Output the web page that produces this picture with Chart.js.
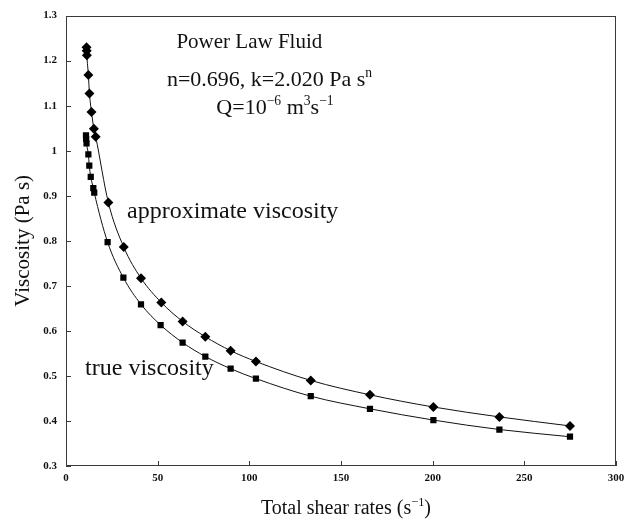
<!DOCTYPE html>
<html>
<head>
<meta charset="utf-8">
<script src="https://cdn.jsdelivr.net/npm/chart.js@4/dist/chart.umd.min.js"></script>
<style>
  html, body { margin: 0; padding: 0; background: #fff; }
  #wrap { width: 633px; height: 523px; }
</style>
</head>
<body>
<div id="wrap"><canvas id="chart" width="633" height="523"></canvas></div>
<script>
// values
var shearApprox = [11.2, 11.3, 11.4, 12.2, 12.8, 13.9, 15.2, 16.2, 23.1, 31.5, 40.9, 52.0, 63.6, 76.0, 89.8, 103.6, 133.5, 165.8, 200.4, 236.4, 274.9];
var viscApprox  = [1.230, 1.222, 1.212, 1.168, 1.127, 1.086, 1.049, 1.031, 0.885, 0.786, 0.717, 0.663, 0.621, 0.587, 0.556, 0.532, 0.490, 0.458, 0.431, 0.409, 0.389];

var shearTrue = [10.9, 11.0, 11.2, 12.2, 12.7, 13.5, 14.9, 15.4, 22.7, 31.3, 40.9, 51.6, 63.6, 76.0, 89.8, 103.6, 133.5, 165.8, 200.4, 236.4, 274.9];
var viscTrue  = [1.034, 1.026, 1.016, 0.992, 0.967, 0.942, 0.917, 0.907, 0.797, 0.718, 0.659, 0.613, 0.574, 0.543, 0.516, 0.494, 0.455, 0.427, 0.402, 0.381, 0.365];

var xRange = [0, 300];
var yRange = [0.3, 1.3];

var serif = '"Liberation Serif", "Times New Roman", serif';

function toPoints(xs, ys) {
    return xs.map(function(x, i) { return {x: x, y: ys[i]}; });
}

// text pieces: [text, isSuperscript]
function drawRuns(ctx, parts, size, x, y, align) {
    var widths = parts.map(function(p) {
        ctx.font = (p[1] ? size * 0.62 : size) + 'px ' + serif;
        return ctx.measureText(p[0]).width;
    });
    var total = widths.reduce(function(a, b) { return a + b; }, 0);
    var cx = align === 'center' ? x - total / 2 : x;
    ctx.textAlign = 'left';
    ctx.textBaseline = 'alphabetic';
    parts.forEach(function(p, i) {
        ctx.font = (p[1] ? size * 0.62 : size) + 'px ' + serif;
        ctx.fillText(p[0], cx, p[1] ? y - size * 0.42 : y);
        cx += widths[i];
    });
}

var labels = [
    {parts: [['Power Law Fluid']], x: 100, y: 1.228, size: 21, align: 'center'},
    {parts: [['n=0.696, k=2.020 Pa s'], ['n', true]], x: 111, y: 1.143, size: 22, align: 'center'},
    {parts: [['Q=10'], ['\u22126', true], [' m'], ['3', true], ['s'], ['\u22121', true]], x: 114, y: 1.081, size: 22, align: 'center'},
    {parts: [['approximate viscosity']], x: 33.3, y: 0.850, size: 24, align: 'left'},
    {parts: [['true viscosity']], x: 10.4, y: 0.501, size: 24, align: 'left'}
];

var decor = {
    id: 'decor',
    afterDraw: function(chart) {
        var ctx = chart.ctx, a = chart.chartArea;
        var xs = chart.scales.x, ys = chart.scales.y;
        ctx.save();
        ctx.strokeStyle = '#3a3a3a';
        ctx.lineWidth = 1;
        ctx.strokeRect(Math.round(a.left) + 0.5, Math.round(a.top) + 0.5,
                       Math.round(a.width) - 1, Math.round(a.height) - 1);
        ctx.beginPath();
        xs.ticks.forEach(function(t) {
            var px = Math.round(xs.getPixelForValue(t.value)) + 0.5;
            ctx.moveTo(px, a.bottom);
            ctx.lineTo(px, a.bottom - 5);
        });
        ys.ticks.forEach(function(t) {
            var py = Math.round(ys.getPixelForValue(t.value)) + 0.5;
            ctx.moveTo(a.left, py);
            ctx.lineTo(a.left + 5, py);
        });
        ctx.stroke();

        ctx.fillStyle = '#111';
        labels.forEach(function(l) {
            drawRuns(ctx, l.parts, l.size, xs.getPixelForValue(l.x), ys.getPixelForValue(l.y), l.align);
        });

        // axis titles
        drawRuns(ctx, [['Total shear rates (s'], ['\u22121', true], [')']], 20,
                 (a.left + a.right) / 2 + 5, 514, 'center');
        ctx.translate(29, (a.top + a.bottom) / 2);
        ctx.rotate(-Math.PI / 2);
        drawRuns(ctx, [['Viscosity (Pa s)']], 21, 0, 0, 'center');
        ctx.restore();
    }
};

var chart = new Chart(document.getElementById('chart'), {
    type: 'scatter',
    data: {
        datasets: [{
            label: 'approximate viscosity',
            data: toPoints(shearApprox, viscApprox),
            showLine: true,
            borderColor: '#111',
            borderWidth: 1,
            backgroundColor: '#000',
            pointStyle: 'rectRot',
            pointRadius: 5,
            pointBorderWidth: 0,
            cubicInterpolationMode: 'monotone'
        }, {
            label: 'true viscosity',
            data: toPoints(shearTrue, viscTrue),
            showLine: true,
            borderColor: '#111',
            borderWidth: 1,
            backgroundColor: '#000',
            pointStyle: 'rect',
            pointRadius: 4.4,
            pointBorderWidth: 0,
            cubicInterpolationMode: 'monotone'
        }]
    },
    options: {
        responsive: false,
        animation: false,
        layout: { padding: { top: 13, right: 17, left: 0, bottom: 0 } },
        plugins: { legend: { display: false }, tooltip: { enabled: false } },
        scales: {
            x: {
                type: 'linear',
                min: xRange[0], max: xRange[1],
                grid: { display: false, drawTicks: false },
                border: { display: false },
                ticks: {
                    stepSize: 50, padding: 6, color: '#111',
                    font: { family: serif, size: 11, weight: 'bold' }
                },
                afterFit: function(s) { s.height = 57; }
            },
            y: {
                type: 'linear',
                min: yRange[0], max: yRange[1],
                grid: { display: false, drawTicks: false },
                border: { display: false },
                ticks: {
                    stepSize: 0.1, padding: 9, color: '#111',
                    font: { family: serif, size: 11, weight: 'bold' },
                    callback: function(v) { return String(Math.round(v * 10) / 10); }
                },
                afterFit: function(s) { s.width = 66; }
            }
        }
    },
    plugins: [decor]
});
</script>
</body>
</html>
